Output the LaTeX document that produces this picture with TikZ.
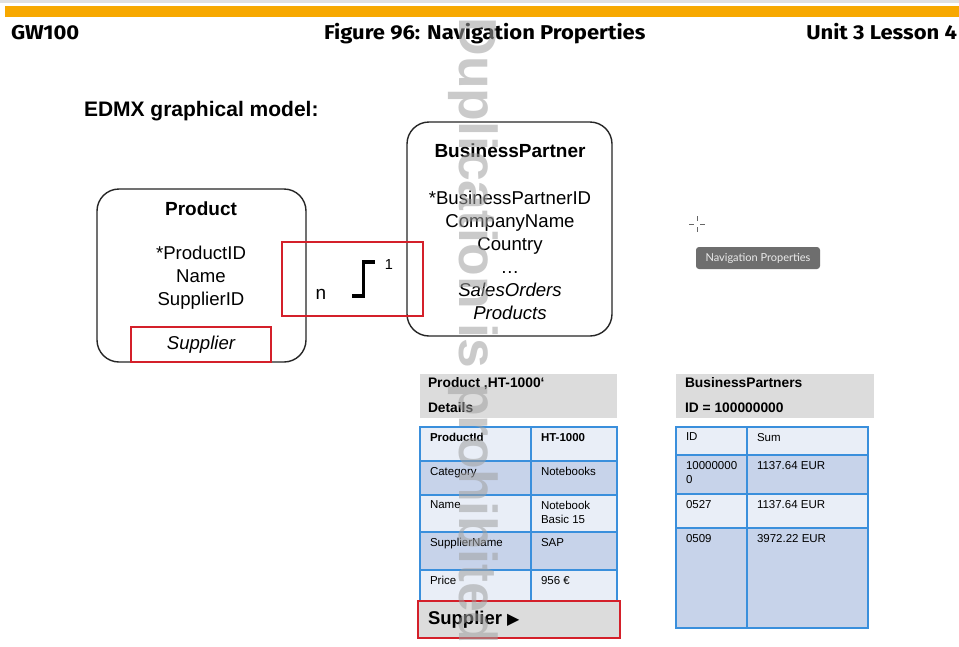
\documentclass[tikz,border=0pt]{standalone}
\usepackage{fontspec}
\setmainfont{Liberation Sans}
\newfontfamily\headfont[FakeStretch=1.1]{Fira Sans}
\newfontfamily\tipfont{Lato}
\newfontfamily\symfont{DejaVu Sans}
\usetikzlibrary{positioning}
\definecolor{sapgold}{HTML}{F7A800}
\definecolor{boxred}{HTML}{D4202A}
\definecolor{gridblue}{HTML}{3A8FDC}
\definecolor{rowlight}{HTML}{E9EEF7}
\definecolor{rowdark}{HTML}{C7D3EA}
\definecolor{panelgray}{HTML}{DCDCDC}
\definecolor{tipgray}{HTML}{6E6E6E}
\definecolor{markgray}{HTML}{A0A0A0}

\begin{document}
\begin{tikzpicture}[
  x=1pt, y=-1pt,
  node distance=0pt,
  every node/.style={outer sep=0pt},
  pagehead/.style={font=\headfont\bfseries\fontsize{20}{24}\selectfont, inner sep=0pt, anchor=base west},
  entity/.style={draw=black!85, line width=1.4pt, rounded corners=22pt, anchor=north west},
  entname/.style={font=\fontsize{19}{23}\selectfont\bfseries, inner sep=0pt},
  props/.style={font=\fontsize{18.6}{23}\selectfont, align=center, inner sep=0pt},
  redframe/.style={draw=boxred, line width=2.8pt, anchor=north west},
  panel/.style={fill=panelgray, anchor=north west, minimum height=44pt},
  paneltext/.style={font=\fontsize{13.8}{25}\selectfont\bfseries, align=left, inner sep=0pt, anchor=west},
  cell/.style={draw=gridblue, line width=1.5pt, inner sep=0pt},
  lightcell/.style={cell, fill=rowlight},
  darkcell/.style={cell, fill=rowdark},
  celltext/.style={font=\fontsize{11.5}{14}\selectfont, align=left, inner sep=0pt, anchor=north west},
  stepline/.style={line width=3.2pt, line cap=butt, line join=miter},
  crosshair/.style={draw=black!60, line width=0.9pt}
]
% page frame
\fill[white] (0,0) rectangle (959,646);
\fill[black!12] (0,0) rectangle (959,3);
\fill[sapgold] (5,6) rectangle (959,17);
\node[pagehead] (course) at (11,39) {GW100};
\node[pagehead] (figtitle) at (324,39) {Figure 96: Navigation Properties};
\node[pagehead, anchor=base east] (unit) at (957,39) {Unit 3 Lesson 4};
\node[font=\fontsize{21}{25}\selectfont\bfseries, inner sep=0pt, anchor=west] (modelhead) at (84,111) {EDMX graphical model:};

% entity types
\node[entity, minimum width=209pt, minimum height=173pt] (product) at (97,189) {};
\node[entname] (productname) at (201,209) {Product};
\node[props] (productprops) at (201,278) {*ProductID\\Name\\SupplierID};
\node[redframe, minimum width=140pt, minimum height=35pt,
  font=\fontsize{18.6}{23}\selectfont\itshape] (tosupplier) at (131,327) {Supplier};

\node[entity, minimum width=205pt, minimum height=214pt] (partner) at (407,122) {};
\node[entname] (partnername) at (510,151) {BusinessPartner};
\node[props] (partnerprops) at (510,255) {*BusinessPartnerID\\CompanyName\\Country\\\ldots\\
  \textit{SalesOrders}\\\textit{Products}};

% association
\node[redframe, minimum width=141pt, minimum height=74pt] (assoc) at (282,242) {};
\node[font=\fontsize{19}{23}\selectfont, inner sep=0pt] (manyend) at (321,294) {n};
\node[font=\fontsize{14.5}{17}\selectfont, inner sep=0pt] (oneend) at (389,265) {1};
\draw[stepline] (352,296) -| (363.5,262) -- (375,262);

% tooltip and cursor
\coordinate (cursor) at (697,224);
\draw[crosshair] (cursor) ++(-8,0) -- ++(5,0) ++(6,0) -- ++(5,0);
\draw[crosshair] (cursor) ++(0,-8) -- ++(0,5) ++(0,6) -- ++(0,5);
\node[fill=tipgray, rounded corners=3pt, minimum width=124pt, minimum height=22pt,
  text=white!92!black, font=\tipfont\fontsize{11}{13}\selectfont] (navtip) at (758,258) {Navigation Properties};

% product details
\node[panel, minimum width=197pt] (detpanel) at (420,374) {};
\node[paneltext] (dettitle) at (428,395.5) {Product ‚HT-1000‘\\Details};
\node[lightcell, anchor=north west, minimum width=111pt, minimum height=34pt] (pidkey) at (420,427) {};
\node[lightcell, right=of pidkey, minimum width=86pt, minimum height=34pt] (pidval) {};
\node[darkcell, below=of pidkey, minimum width=111pt, minimum height=34pt] (catkey) {};
\node[darkcell, right=of catkey, minimum width=86pt, minimum height=34pt] (catval) {};
\node[lightcell, below=of catkey, minimum width=111pt, minimum height=37pt] (namekey) {};
\node[lightcell, right=of namekey, minimum width=86pt, minimum height=37pt] (nameval) {};
\node[darkcell, below=of namekey, minimum width=111pt, minimum height=38pt] (supkey) {};
\node[darkcell, right=of supkey, minimum width=86pt, minimum height=38pt] (supval) {};
\node[lightcell, below=of supkey, minimum width=111pt, minimum height=31pt] (pricekey) {};
\node[lightcell, right=of pricekey, minimum width=86pt, minimum height=31pt] (priceval) {};
\node[celltext, font=\fontsize{11.5}{14}\selectfont\bfseries] (pidkeytxt) at (430,433) {ProductId};
\node[celltext, font=\fontsize{11.5}{14}\selectfont\bfseries] (pidvaltxt) at (541,433) {HT-1000};
\node[celltext] (catkeytxt) at (430,467) {Category};
\node[celltext] (catvaltxt) at (541,467) {Notebooks};
\node[celltext] (namekeytxt) at (430,501) {Name};
\node[celltext] (namevaltxt) at (541,501) {Notebook\\Basic 15};
\node[celltext] (supkeytxt) at (430,538) {SupplierName};
\node[celltext] (supvaltxt) at (541,538) {SAP};
\node[celltext] (pricekeytxt) at (430,576) {Price};
\node[celltext] (pricevaltxt) at (541,576) {956 €};
\node[redframe, fill=panelgray, minimum width=202pt, minimum height=37pt] (supnav) at (418,601) {};
\node[font=\fontsize{18.5}{22}\selectfont\bfseries, inner sep=0pt, anchor=west] (supnavtxt) at (428,620)
  {Supplier {\symfont\fontsize{16}{18}\selectfont\raisebox{0.5pt}{▶}}};

% business partners
\node[panel, minimum width=198pt] (bppanel) at (676,374) {};
\node[paneltext] (bptitle) at (685,395.5) {BusinessPartners\\ID = 100000000};
\node[lightcell, anchor=north west, minimum width=71pt, minimum height=28pt] (idhead) at (676,427) {};
\node[lightcell, right=of idhead, minimum width=121pt, minimum height=28pt] (sumhead) {};
\node[darkcell, below=of idhead, minimum width=71pt, minimum height=39pt] (idone) {};
\node[darkcell, right=of idone, minimum width=121pt, minimum height=39pt] (sumone) {};
\node[lightcell, below=of idone, minimum width=71pt, minimum height=34pt] (idtwo) {};
\node[lightcell, right=of idtwo, minimum width=121pt, minimum height=34pt] (sumtwo) {};
\node[darkcell, below=of idtwo, minimum width=71pt, minimum height=100pt] (idthree) {};
\node[darkcell, right=of idthree, minimum width=121pt, minimum height=100pt] (sumthree) {};
\node[celltext] (idheadtxt) at (686,433) {ID};
\node[celltext] (sumheadtxt) at (757,433) {Sum};
\node[celltext] (idonetxt) at (686,461) {10000000\\0};
\node[celltext] (sumonetxt) at (757,461) {1137.64 EUR};
\node[celltext] (idtwotxt) at (686,500) {0527};
\node[celltext] (sumtwotxt) at (757,500) {1137.64 EUR};
\node[celltext] (idthreetxt) at (686,534) {0509};
\node[celltext] (sumthreetxt) at (757,534) {3972.22 EUR};

% watermark
\node[rotate=-90, text=markgray, opacity=0.55, inner sep=0pt,
  font=\fontsize{53.5}{60}\selectfont\bfseries] (watermark) at (473,331) {Duplication is prohibited};
\end{tikzpicture}
\end{document}
